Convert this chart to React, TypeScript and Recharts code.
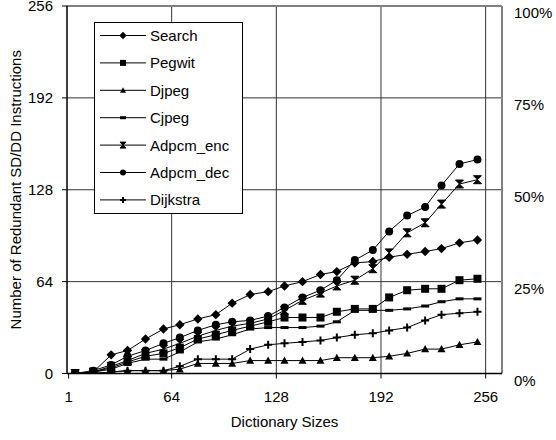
import React from "react";
import {
  LineChart,
  Line,
  XAxis,
  YAxis,
  CartesianGrid,
  Legend,
  ReferenceLine,
} from "recharts";

// dictionary sizes of the 24 measured points
const sizes = [5, 16, 27, 37, 48, 59, 69, 80, 91, 101, 112, 123, 133, 144, 155, 165, 176, 187, 197, 208, 219, 229, 240, 251];

const search = [0, 1, 13, 16, 24, 31, 34, 38, 41, 49, 55, 57, 61, 64, 69, 71, 77, 78, 81, 83, 85, 87, 91, 93];
const pegwit = [0, 1, 4, 8, 12, 14, 18, 24, 27, 30, 33, 36, 39, 39, 39, 43, 45, 45, 53, 58, 59, 59, 65, 66];
const djpeg = [0, 0, 1, 2, 2, 2, 3, 7, 7, 7, 9, 9, 9, 9, 9, 11, 11, 11, 12, 14, 17, 17, 20, 22];
const cjpeg = [0, 1, 3, 7, 10, 10, 15, 22, 24, 27, 31, 32, 32, 32, 33, 36, 44, 44, 44, 45, 47, 50, 52, 52];
const adpcmEnc = [0, 1, 5, 9, 14, 17, 21, 26, 30, 33, 35, 38, 44, 51, 56, 61, 65, 73, 84, 98, 105, 118, 132, 135];
const adpcmDec = [0, 2, 6, 12, 16, 21, 25, 30, 34, 36, 37, 40, 46, 53, 58, 65, 79, 86, 99, 110, 116, 131, 146, 149];
const dijkstra = [0, 0, 1, 2, 2, 2, 5, 10, 10, 10, 17, 20, 21, 22, 23, 25, 27, 28, 30, 32, 37, 41, 42, 43];

const xTicks = [1, 64, 128, 192, 256];
const yTicks = [0, 64, 128, 192, 256];
const pctTicks = [0, 25, 50, 75, 100];

const FONT = "'Liberation Sans', Arial, sans-serif";

const seriesList = [
  { key: "search", name: "Search", values: search, marker: "diamond" },
  { key: "pegwit", name: "Pegwit", values: pegwit, marker: "square" },
  { key: "djpeg", name: "Djpeg", values: djpeg, marker: "triangle" },
  { key: "cjpeg", name: "Cjpeg", values: cjpeg, marker: "dash" },
  { key: "adpcmEnc", name: "Adpcm_enc", values: adpcmEnc, marker: "x" },
  { key: "adpcmDec", name: "Adpcm_dec", values: adpcmDec, marker: "circle" },
  { key: "dijkstra", name: "Dijkstra", values: dijkstra, marker: "plus" },
];

const data = sizes.map((size, i) => {
  const row: Record<string, number> = { size };
  seriesList.forEach((s) => {
    row[s.key] = s.values[i];
  });
  return row;
});

function Marker({ cx, cy, shape, r }: { cx: number; cy: number; shape: string; r: number }) {
  if (cx == null || cy == null) return null;
  switch (shape) {
    case "diamond":
      return <path d={`M${cx},${cy - r - 0.7}L${cx + r + 0.7},${cy}L${cx},${cy + r + 0.7}L${cx - r - 0.7},${cy}Z`} fill="#000" />;
    case "square":
      return <rect x={cx - r} y={cy - r} width={r * 2} height={r * 2} fill="#000" />;
    case "triangle":
      return <path d={`M${cx},${cy - r}L${cx + r},${cy + r * 0.8}L${cx - r},${cy + r * 0.8}Z`} fill="#000" />;
    case "dash":
      return <rect x={cx - r} y={cy - 1.5} width={r * 2} height={3} fill="#000" />;
    case "x":
      return (
        <path
          d={`M${cx - r},${cy - r}H${cx + r}L${cx - r},${cy + r}H${cx + r}Z`}
          fill="#000"
          stroke="#000"
          strokeWidth={1}
        />
      );
    case "circle":
      return <circle cx={cx} cy={cy} r={r} fill="#000" />;
    case "plus":
      return (
        <path
          d={`M${cx - r},${cy}H${cx + r}M${cx},${cy - r}V${cy + r}`}
          stroke="#000"
          strokeWidth={2}
          fill="none"
        />
      );
    default:
      return null;
  }
}

function LegendBox() {
  return (
    <div style={{ width: 147, height: 190, border: "1px solid #000", background: "#fff" }}>
      <svg width={147} height={190} style={{ display: "block", fontFamily: FONT }}>
        {seriesList.map((s, i) => {
          const y = 12.5 + i * 27.4;
          return (
            <g key={s.key}>
              <line x1={5} x2={51} y1={y} y2={y} stroke="#000" strokeWidth={1} />
              <Marker cx={28} cy={y} shape={s.marker} r={3} />
              <text x={55} y={y} dominantBaseline="central" fontSize={15} fill="#000">
                {s.name}
              </text>
            </g>
          );
        })}
      </svg>
    </div>
  );
}

function YLabel(props: any) {
  const vb = props.viewBox || { x: 0, y: 6, width: 67, height: 367.5 };
  const x = vb.x + 21;
  const cy = vb.y + vb.height / 2;
  return (
    <text
      x={x}
      y={cy}
      transform={`rotate(-90, ${x}, ${cy})`}
      textAnchor="middle"
      fontSize={15}
      fill="#000"
      fontFamily={FONT}
    >
      Number of Redundant SD/DD Instructions
    </text>
  );
}

export default function App() {
  return (
    <div style={{ position: "absolute", left: 0, top: 0, background: "#fff" }}>
      <LineChart
        width={556}
        height={440}
        data={data}
        margin={{ top: 6, right: 0, bottom: 0, left: 0 }}
        style={{ fontFamily: FONT }}
      >
        <CartesianGrid
          stroke="#333"
          horizontalValues={[64, 128, 192]}
          verticalValues={[64, 128, 192, 256]}
        />
        <XAxis
          type="number"
          dataKey="size"
          domain={[0, 266]}
          ticks={xTicks}
          interval={0}
          height={66.5}
          tickSize={5}
          tickMargin={13}
          axisLine={{ stroke: "#000", strokeWidth: 1.5 }}
          tickLine={{ stroke: "#000" }}
          tick={{ fontSize: 15, fill: "#000" }}
          label={{ value: "Dictionary Sizes", position: "insideBottom", offset: 13, fontSize: 15, fill: "#000" }}
          allowDataOverflow
        />
        <YAxis
          domain={[0, 256]}
          ticks={yTicks}
          interval={0}
          width={67}
          tickSize={5}
          tickMargin={9}
          axisLine={{ stroke: "#000", strokeWidth: 1.5 }}
          tickLine={{ stroke: "#000" }}
          tick={{ fontSize: 15, fill: "#000" }}
          label={YLabel}
          allowDataOverflow
        />
        <YAxis
          yAxisId="right"
          orientation="right"
          type="number"
          domain={[0, 100]}
          allowDataOverflow
          ticks={pctTicks}
          interval={0}
          width={54}
          axisLine={false}
          tickLine={false}
          tickSize={0}
          tickMargin={12}
          tickFormatter={(v) => `${v}%`}
          tick={{ fontSize: 15, fill: "#000", dy: 7 }}
        />
        <ReferenceLine y={256} stroke="#808080" strokeWidth={2} />
        <ReferenceLine x={266} stroke="#808080" strokeWidth={2} />
        {seriesList.map((s) => (
          <Line
            key={s.key}
            dataKey={s.key}
            name={s.name}
            stroke="#000"
            strokeWidth={1}
            isAnimationActive={false}
            activeDot={false}
            dot={(p: any) => (
              <Marker key={`${s.key}-${p.index}`} cx={p.cx} cy={p.cy} shape={s.marker} r={4} />
            )}
          />
        ))}
        <Legend
          layout="vertical"
          align="center"
          verticalAlign="middle"
          wrapperStyle={{ left: 94, top: 22 }}
          content={() => <LegendBox />}
        />
      </LineChart>
    </div>
  );
}
